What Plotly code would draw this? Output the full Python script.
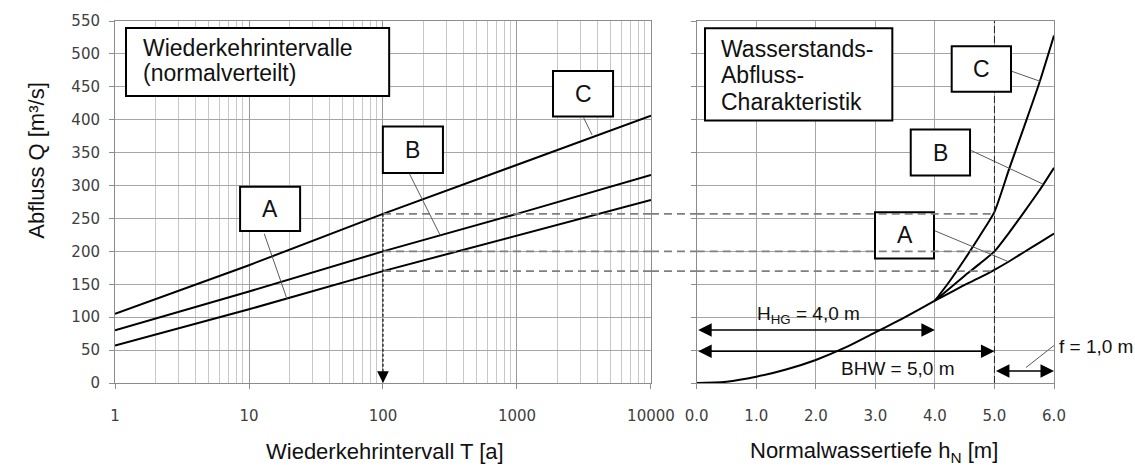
import plotly.graph_objects as go

# ---------------- data ----------------
T_YEARS = [1, 10, 100, 1000, 10000]
Q_A_T = [57, 112, 170, 224, 278]
Q_B_T = [80, 139, 200, 257, 316]
Q_C_T = [105, 179, 257, 332, 406]

H_COMMON = [0, 0.5, 1, 1.5, 2, 2.5, 3, 3.5, 4]
Q_COMMON = [0, 2, 9.5, 20.5, 35, 54, 77, 100, 125]
H_BRANCH = [4, 4.25, 4.5, 4.75, 5, 5.25, 5.5, 5.75, 6]
Q_A_H = [125, 137, 149, 160, 172, 185, 199, 213, 227]
Q_B_H = [125, 144, 163, 181, 200, 229, 260, 292, 327]
Q_C_H = [125, 155, 188, 223, 260, 326, 390, 455, 528]

T_DESIGN = 100
H_HG = 4.0
H_BHW = 5.0
H_MAX = 6.0

X_TICKS = [1, 10, 100, 1000, 10000]
X_TICKTEXT = ["1", "10", "100", "1000", "10000"]
X_MINOR = [m * 10 ** k for k in range(4) for m in range(2, 10)]
X2_TICKS = [0, 1, 2, 3, 4, 5, 6]
X2_TICKTEXT = ["0.0", "1.0", "2.0", "3.0", "4.0", "5.0", "6.0"]
Y_TICKS = list(range(0, 551, 50))

IDX_DESIGN = T_YEARS.index(T_DESIGN)
Q_LEVELS = [Q_C_T[IDX_DESIGN], Q_B_T[IDX_DESIGN], Q_A_T[IDX_DESIGN]]

# ---------------- style ----------------
D1 = [0.0, 0.5708]
D2 = [0.6195, 1.0]
TXT = "Liberation Sans"
TICKFONT = dict(family="DejaVu Sans", size=15, color="#404040")
LINE = dict(color="black", width=2)
LEADER = dict(color="#5a5a5a", width=1)
DASH_GRAY = dict(color="#7f7f7f", width=1.6, dash="8px,5px")

fig = go.Figure()

# left panel lines
for q in (Q_A_T, Q_B_T, Q_C_T):
    fig.add_trace(go.Scatter(x=T_YEARS, y=q, mode="lines", line=LINE,
                             xaxis="x", yaxis="y", hoverinfo="skip"))

# right panel curves
fig.add_trace(go.Scatter(x=H_COMMON, y=Q_COMMON, mode="lines",
                         line=dict(color="black", width=2, shape="spline"),
                         xaxis="x2", yaxis="y2", hoverinfo="skip"))
for q in (Q_A_H, Q_B_H, Q_C_H):
    fig.add_trace(go.Scatter(x=H_BRANCH, y=q, mode="lines",
                             line=dict(color="black", width=2, shape="spline", smoothing=0.6),
                             xaxis="x2", yaxis="y2", hoverinfo="skip"))

# dashed horizontal levels (left part)
for q in Q_LEVELS:
    fig.add_trace(go.Scatter(x=[T_DESIGN, 10000], y=[q, q], mode="lines", line=DASH_GRAY,
                             xaxis="x", yaxis="y", hoverinfo="skip"))

# vertical dashed at T=100
fig.add_trace(go.Scatter(x=[T_DESIGN, T_DESIGN], y=[Q_LEVELS[0], 0], mode="lines",
                         line=dict(color="#111", width=1.2, dash="3px,2px"),
                         xaxis="x", yaxis="y", hoverinfo="skip"))

# leader lines left
LEADERS_L = [([13.0, 19.2], [226.7, 127.8]),
             ([157.7, 267.4], [317.7, 224.3]),
             ([3143, 3631], [403, 377])]
for xs, ys in LEADERS_L:
    fig.add_trace(go.Scatter(x=xs, y=ys, mode="lines", line=LEADER,
                             xaxis="x", yaxis="y", hoverinfo="skip"))
# leader lines right
LEADERS_R = [([5.278, 5.78], [474, 458]),
             ([4.59, 5.82], [354, 302]),
             ([3.985, 5.23], [231.8, 184.5]),
             ([5.53, 6.0], [23.5, 57])]
for xs, ys in LEADERS_R:
    fig.add_trace(go.Scatter(x=xs, y=ys, mode="lines", line=LEADER, cliponaxis=False,
                             xaxis="x2", yaxis="y2", hoverinfo="skip"))

shapes = []
# vertical dashed line at BHW
shapes.append(dict(type="line", xref="x2", yref="y2", x0=H_BHW, x1=H_BHW, y0=0, y1=550,
                   line=dict(color="#222", width=1, dash="7px,3px"), layer="above"))

# boxes
BOXES = [("x", 1.208, 111.2, 436.1, 539.5),
         ("x", 8.58, 24.07, 230.8, 298.2),
         ("x", 99.8, 280.2, 319.2, 389.6),
         ("x", 1857, 5212, 405, 474),
         ("x2", 0.139, 3.285, 399, 539),
         ("x2", 4.282, 5.278, 442.5, 511.5),
         ("x2", 3.594, 4.59, 315.1, 385.1),
         ("x2", 2.994, 3.985, 189.3, 259.3)]
for xr, x0, x1, y0, y1 in BOXES:
    shapes.append(dict(type="rect", xref=xr, yref="y", x0=x0, x1=x1, y0=y0, y1=y1,
                       line=dict(color="black", width=2), fillcolor="white", layer="above"))

# dashed levels: gap + right part (above boxes)
for q in Q_LEVELS:
    shapes.append(dict(type="line", xref="paper", yref="y", x0=D1[1], x1=D2[0], y0=q, y1=q,
                       line=DASH_GRAY, layer="above"))
    shapes.append(dict(type="line", xref="x2", yref="y2", x0=0, x1=H_BHW, y0=q, y1=q,
                       line=DASH_GRAY, layer="above"))

ann = []
def txt(text, x, y, xref, yref="y", size=23, xanchor="center", yanchor="middle", **kw):
    ann.append(dict(text=text, x=x, y=y, xref=xref, yref=yref, showarrow=False,
                    font=dict(family=TXT, size=size, color="#111"),
                    xanchor=xanchor, yanchor=yanchor, **kw))

# box texts
txt("Wiederkehrintervalle", 0.194, 508.8, "x", xanchor="left")
txt("(normalverteilt)", 0.194, 470.5, "x", xanchor="left")
txt("A", 1.1576, 264.5, "x")
txt("B", 2.2233, 354.4, "x")
txt("C", 3.493, 439.5, "x")
txt("Wasserstands-", 0.38, 507.6, "x2", xanchor="left")
txt("Abfluss-", 0.38, 467.6, "x2", xanchor="left")
txt("Charakteristik", 0.38, 427.5, "x2", xanchor="left")
txt("C", 4.78, 477, "x2")
txt("B", 4.092, 350, "x2")
txt("A", 3.49, 224.3, "x2")

# dimension labels
txt("H<sub>HG</sub> = 4,0 m", 1.87, 104, "x2", size=19)
txt("BHW = 5,0 m", 3.38, 22.5, "x2", size=19)
txt("f = 1,0 m", 1.003, 56, "paper", size=19, xanchor="left")

# arrows
def arrow(x, y, ax, ay, xref, both=True):
    ann.append(dict(x=x, y=y, ax=ax, ay=ay, xref=xref, yref="y", axref=xref, ayref="y",
                    text="", showarrow=True, arrowhead=2, arrowsize=1.8, arrowwidth=1.5,
                    arrowcolor="black", arrowside="end+start" if both else "end",
                    standoff=0, startstandoff=0))
arrow(H_HG, 80.4, 0, 80.4, "x2")
arrow(H_BHW, 48.4, 0, 48.4, "x2")
arrow(H_MAX, 18.4, H_BHW, 18.4, "x2")
# arrowhead at T=100 bottom
ann.append(dict(x=2, y=0, ax=0, ay=-12, xref="x", yref="y", text="", showarrow=True,
                arrowhead=2, arrowsize=1.8, arrowwidth=1.3, arrowcolor="black", standoff=0))

# axis titles
ann.append(dict(text="Abfluss Q [m³/s]", x=-0.099, y=337, xref="paper", yref="y",
                textangle=-90, showarrow=False, font=dict(family=TXT, size=22, color="#111")))
ann.append(dict(text="Wiederkehrintervall T [a]", x=2.013, y=-0.19, xref="x", yref="paper",
                showarrow=False, font=dict(family=TXT, size=22, color="#111"), yanchor="middle"))
ann.append(dict(text="Normalwassertiefe h<sub>N</sub> [m]", x=2.98, y=-0.19, xref="x2", yref="paper",
                showarrow=False, font=dict(family=TXT, size=22, color="#111"), yanchor="middle"))

GRID = "#a6a6a6"
AXLINE = "#8c8c8c"
fig.update_layout(
    width=1135, height=468,
    margin=dict(l=115, r=81, t=16, b=85),
    paper_bgcolor="white", plot_bgcolor="white",
    showlegend=False,
    xaxis=dict(type="log", range=[0, 4], domain=D1, anchor="y",
               tickvals=X_TICKS, ticktext=X_TICKTEXT, tickfont=TICKFONT,
               showgrid=True, gridcolor="#999999", gridwidth=1,
               minor=dict(tickvals=X_MINOR, showgrid=True, gridcolor="#c8c8c8", ticks=""),
               ticks="outside", ticklen=5, tickcolor=AXLINE, ticklabelstandoff=14,
               showline=True, linecolor=AXLINE, mirror=True, zeroline=False),
    yaxis=dict(range=[0, 550], tickvals=Y_TICKS, tickfont=TICKFONT, anchor="x",
               showgrid=True, gridcolor=GRID, ticks="outside", ticklen=5, tickcolor=AXLINE,
               ticklabelstandoff=6,
               showline=True, linecolor=AXLINE, mirror=True, zeroline=False),
    xaxis2=dict(range=[0, 6], domain=D2, anchor="y2", tickvals=X2_TICKS, ticktext=X2_TICKTEXT,
                tickfont=TICKFONT, showgrid=True, gridcolor=GRID,
                ticks="outside", ticklen=5, tickcolor=AXLINE, ticklabelstandoff=14,
                showline=True, linecolor=AXLINE, mirror=True, zeroline=False),
    yaxis2=dict(range=[0, 550], tickvals=Y_TICKS, anchor="x2", showticklabels=False,
                showgrid=True, gridcolor=GRID, ticks="outside", ticklen=5, tickcolor=AXLINE,
                showline=True, linecolor=AXLINE, mirror=True, zeroline=False),
    shapes=shapes, annotations=ann,
)

fig.write_html("out.html")
